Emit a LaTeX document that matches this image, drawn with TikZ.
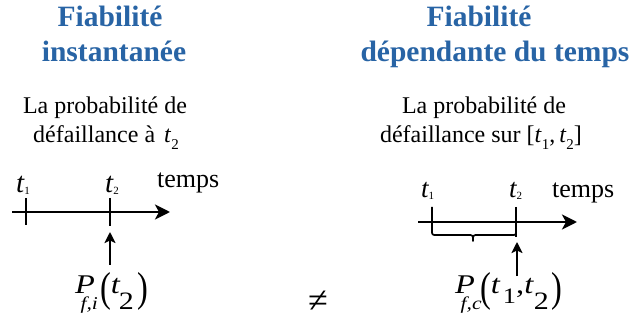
\documentclass[tikz,border=0pt]{standalone}
\usepackage{fontspec}
\usepackage{graphicx}
\setmainfont{Liberation Serif}
\usetikzlibrary{arrows.meta}
\definecolor{titleblue}{RGB}{40,100,165}
\newcommand\fsz[1]{\fontsize{#1}{#1}\selectfont}
\newcommand\lowsub[3]{\raisebox{-#2pt}{\fsz{#1}\upshape #3}}
\newcommand\bigparen[1]{\raisebox{-9pt}{\scalebox{1}[1.55]{#1}}}
\begin{document}
\begin{tikzpicture}[x=1pt,y=-1pt,
 title/.style={font=\fsz{29.5}\bfseries, text=titleblue, inner sep=0pt},
 body/.style={font=\fsz{24}, inner sep=0pt},
 axis/.style={line width=2.8pt, -{Stealth[length=15pt,width=15pt,inset=4pt]}},
 tickline/.style={line width=2.6pt},
 thinline/.style={line width=1.7pt},
 ptr/.style={line width=2.6pt, -{Stealth[length=11pt,width=11pt,inset=2.5pt]}},
 lbl/.style={font=\fsz{29}\itshape, inner sep=0pt},
 lblr/.style={font=\fsz{27}\itshape, inner sep=0pt},
 word/.style={font=\fsz{26}, inner sep=0pt},
 formula/.style={font=\fsz{27}, inner sep=0pt},
]
\useasboundingbox (0,0) rectangle (632,331);

% titles
\node[title, anchor=base] (tl1) at (110,27) {Fiabilité};
\node[title, anchor=base] (tl2) at (114,62) {instantanée};
\node[title, anchor=base] (tr1) at (479,27) {Fiabilité};
\node[title, anchor=base] (tr2) at (495,62) {dépendante du temps};

% descriptions
\node[body, anchor=base] (dl1) at (105,114) {La probabilité de};
\node[body, anchor=base] (dl2) at (106,143) {défaillance à\kern9pt\textit{t}\lowsub{15}{7}{2}};
\node[body, anchor=base] (dr1) at (484,114) {La probabilité de};
\node[body, anchor=base] (dr2) at (481,143) {défaillance sur [\textit{t}\lowsub{15}{7}{1},\kern4pt\textit{t}\lowsub{15}{7}{2}]};

% left timeline
\coordinate (lax0) at (12,212);
\coordinate (lax1) at (170,212);
\draw[axis] (lax0) -- (lax1);
\coordinate (lk1a) at (26,198); \coordinate (lk1b) at (26,225);
\coordinate (lk2a) at (110,198); \coordinate (lk2b) at (110,226);
\draw[tickline] (lk1a) -- (lk1b);
\draw[tickline] (lk2a) -- (lk2b);
\node[lbl, anchor=base west] (lt1) at (16,193) {t\lowsub{11}{2}{1}};
\node[lbl, anchor=base west] (lt2) at (105,193) {t\lowsub{11}{2}{2}};
\node[word, anchor=base west] (ltemps) at (157,188) {temps};
\coordinate (la0) at (110,265);
\coordinate (la1) at (110,232);
\draw[ptr] (la0) -- (la1);
\node[formula, anchor=base west] (pl) at (75,293)
 {\scalebox{1.2}[1]{\textit{P}\kern-12pt\lowsub{18}{17}{\itshape f,i}\kern1.8pt\bigparen{(}\textit{t}\kern-1.5pt\lowsub{25}{17}{2}\kern3pt\bigparen{)}}};

% not equal
\node[inner sep=0pt, font=\fsz{36}] (neq) at (318,302) {≠};

% right timeline
\coordinate (rax0) at (418,222);
\coordinate (rax1) at (577,222);
\draw[axis] (rax0) -- (rax1);
\coordinate (rk1a) at (432,207);
\coordinate (rk2a) at (516,207); \coordinate (rk2b) at (516,237);
\coordinate (brmid) at (473,241);
\draw[thinline, line join=round]
  (rk1a) -- (432,230) .. controls (432,235) .. (437,235) -- (468,235)
  .. controls (473,235) .. (brmid) .. controls (473,235) .. (478,235) -- (512,235)
  .. controls (516,235) .. (516,230);
\draw[tickline] (rk2a) -- (rk2b);
\node[lblr, anchor=base west] (rt1) at (421,198) {t\lowsub{11}{2}{1}};
\node[lblr, anchor=base west] (rt2) at (509,198) {t\lowsub{11}{2}{2}};
\node[word, anchor=base west] (rtemps) at (552,198) {temps};
\coordinate (ra0) at (517,276);
\coordinate (ra1) at (517,242);
\draw[ptr] (ra0) -- (ra1);
\node[formula, anchor=base west] (pr) at (455,293)
 {\scalebox{1.2}[1]{\textit{P}\kern-12pt\lowsub{18}{17}{\itshape f,c}\kern-1.2pt\bigparen{(}\textit{t}\kern2pt\lowsub{22}{10}{1},\textit{t}\lowsub{25}{17}{2}\kern2.5pt\bigparen{)}}};
\end{tikzpicture}
\end{document}
